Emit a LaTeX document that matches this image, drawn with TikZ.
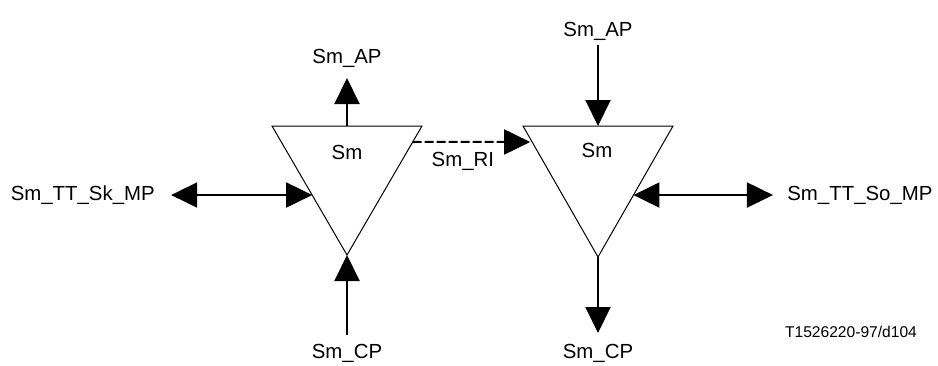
\documentclass[tikz,border=0pt]{standalone}
\usepackage{fontspec}
\setmainfont{Liberation Sans}
\usetikzlibrary{positioning,arrows.meta,calc}

\begin{document}
\begin{tikzpicture}[
			x=0.5pt, y=-0.5pt,
			>={Triangle[length=13pt,width=12.5pt]},
			every node/.style={
				inner sep=0pt,
				font=\fontsize{10.2}{12}\selectfont
			},
			block/.style={draw, line width=0.5pt},
			flow/.style={line width=1pt},
			relay/.style={line width=1pt, dash pattern=on 4.5pt off 1.5pt}
			]
			
			\useasboundingbox (0,0) rectangle (938,365);
			
			%--------------------------------------------------
			% Sink side triangle
			%--------------------------------------------------
			
			\coordinate (L-nw) at (272,126);
			\coordinate (L-ne) at (422,126);
			\coordinate (L-s) at (347,255);
			\coordinate (L-n) at (347,126);
			\coordinate (L-w) at ($(L-nw)!0.535!(L-s)$);
			\coordinate (L-ri) at ($(L-ne)!0.124!(L-s)$);
			
			\draw[block] (L-nw) -- (L-ne) -- (L-s) -- cycle;
			\node (L-name) at (347,152) {Sm};
			
			%--------------------------------------------------
			% Source side triangle
			%--------------------------------------------------
			
			\coordinate (R-nw) at (523,126);
			\coordinate (R-ne) at (673,126);
			\coordinate (R-s) at (598,257);
			\coordinate (R-n) at (598,126);
			\coordinate (R-e) at ($(R-ne)!0.527!(R-s)$);
			\coordinate (R-ri) at ($(R-nw)!0.122!(R-s)$);
			
			\draw[block] (R-nw) -- (R-ne) -- (R-s) -- cycle;
			\node (R-name) at (597,150) {Sm};
			
			%--------------------------------------------------
			% Labels
			%--------------------------------------------------
			
			\node (L-ap) [above=29pt of L-n] {Sm\_AP};
			\node (L-mp) [left=78.5pt of L-w] {Sm\_TT\_Sk\_MP};
			\node (L-cp) [below=44.5pt of L-s] {Sm\_CP};
			
			\node (R-ap) [above=42.5pt of R-n] {Sm\_AP};
			\node (R-mp) [right=76.75pt of R-e] {Sm\_TT\_So\_MP};
			\node (R-cp) [below=43.5pt of R-s] {Sm\_CP};
			
			\node (credit) [font=\fontsize{7.8}{9}\selectfont] at (851,332) {T1526220-97/d104};
			
			%--------------------------------------------------
			% Flow
			%--------------------------------------------------
			
			\draw[flow,->,shorten >=5pt] (L-n) -- (L-ap);
			\draw[flow,<->,shorten <=8pt] (L-mp) -- (L-w);
			\draw[flow,->,shorten <=4.5pt] (L-cp) -- (L-s);
			
			\draw[flow,->,shorten <=2pt] (R-ap) -- (R-n);
			\draw[flow,<->,shorten >=7pt] (R-e) -- (R-mp);
			\draw[flow,->,shorten >=5.5pt] (R-s) -- (R-cp);
			
			\draw[relay,->,shorten >=1pt]
			(L-ri) -- node[below=4.5pt,pos=0.42]{Sm\_RI} (R-ri);
			
		\end{tikzpicture}
\end{document}
